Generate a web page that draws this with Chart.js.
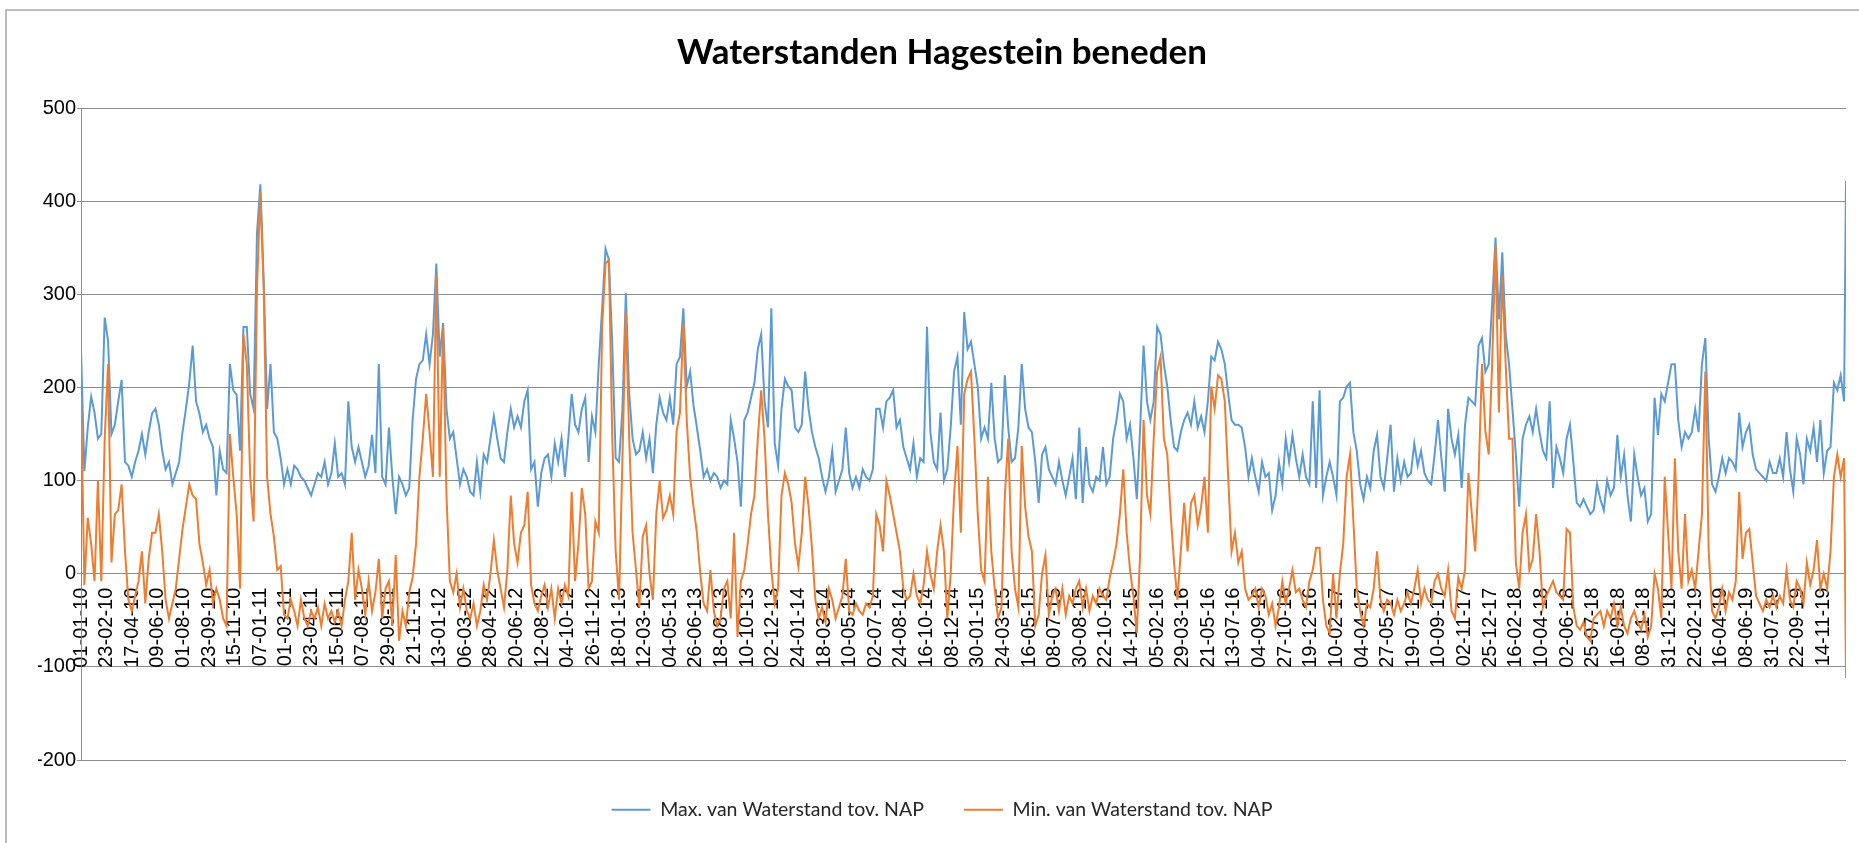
<!DOCTYPE html>
<html>
<head>
<meta charset="utf-8">
<title>Waterstanden Hagestein beneden</title>
<script src="https://cdn.jsdelivr.net/npm/chart.js@4.4.1/dist/chart.umd.min.js"></script>
<style>
  html, body { margin: 0; padding: 0; background: #fff; }
  #wrap { width: 1859px; height: 843px; position: relative; }
</style>
</head>
<body>
<div id="wrap"><canvas id="waterChart"></canvas></div>
<script>
// waterstand in cm tov. NAP, one value per week from 01-01-2010 (day 0), last value = 31-12-2019
const maxWeekly = [
  240,110,157,190,173,145,150,275,250,150,160,185,208,120,116,104,120,132,150,128,152,172,177,160,132,112,120,96,108,120,152,177,205,245,185,172,152,160,145,136,84,132,112,108,225,197,192,132,265,265,
  193,177,365,418,313,177,225,152,145,124,96,112,96,116,112,104,100,92,84,96,108,104,120,96,108,140,104,108,96,185,136,120,136,120,104,116,149,108,225,104,96,157,104,64,104,96,84,92,165,209,225,229,257,
  225,257,333,233,269,177,145,152,124,96,112,104,88,84,120,88,128,120,145,169,145,124,120,152,177,157,169,157,185,197,112,120,72,108,124,128,104,140,120,145,104,145,193,160,152,177,189,120,169,152,225,285,349,
  337,245,124,120,177,301,193,145,128,132,152,124,145,108,160,189,173,165,189,160,225,233,285,201,217,181,157,132,104,112,100,108,104,92,100,96,165,145,120,72,165,173,189,205,241,257,185,157,285,140,116,177,209,201,
  197,157,152,160,217,177,152,136,124,104,88,104,132,88,100,112,157,108,92,104,92,112,104,100,112,177,177,157,185,189,197,157,165,136,124,112,140,104,124,120,265,152,120,112,173,100,112,157,217,233,160,281,241,
  249,225,201,145,157,145,205,145,120,124,213,157,120,124,157,225,177,157,152,120,76,128,136,112,104,96,120,100,84,104,124,80,157,76,136,96,88,104,100,136,96,104,145,165,193,185,145,160,124,80,157,245,185,
  165,185,265,257,225,201,165,136,132,152,165,173,160,185,157,169,152,185,233,229,249,241,225,193,165,160,160,157,136,104,124,104,88,120,104,108,68,84,120,96,145,120,149,124,104,128,104,96,185,92,197,84,104,120,
  104,84,185,189,201,205,152,132,96,80,104,92,132,149,104,92,124,160,88,124,100,120,104,108,140,116,132,108,100,96,128,165,124,88,177,145,128,149,92,160,189,185,181,245,253,217,225,289,361,273,345,257,225,
  177,128,72,145,160,169,152,177,152,132,124,185,92,136,124,108,145,160,120,76,72,80,72,64,68,96,80,68,100,84,92,149,104,128,84,56,128,104,84,92,56,64,189,149,193,185,205,225,225,165,136,152,145,
  152,177,152,225,253,145,96,88,104,124,108,124,120,112,173,136,152,160,128,112,108,104,100,120,108,108,124,104,152,112,88,145,128,96,145,132,157,120,165,108,132,136,205,197,213,185,
  422
];
const minWeekly = [
  190,-12,60,32,-8,100,-8,145,225,12,64,68,96,24,-28,-40,-24,-8,24,-32,16,44,44,64,24,-28,-48,-32,-16,16,48,72,96,84,80,32,12,-12,4,-32,-16,-28,-48,-56,150,104,64,-16,257,225,
  104,56,305,410,305,104,64,40,4,8,-44,-48,-28,-40,-56,-28,-48,-56,-40,-48,-36,-56,-32,-48,-40,-52,-40,-56,-28,-8,44,-28,4,-16,-44,-8,-40,-20,16,-48,-16,-8,-56,20,-72,-40,-56,-20,-4,32,104,145,193,
  152,104,321,104,265,84,-8,-20,0,-36,-16,-40,-48,-32,-56,-40,-12,-28,0,36,4,-16,-36,4,84,32,12,44,52,88,-12,-32,-40,-24,-12,-36,-16,-48,-16,-32,-12,-24,88,-8,32,92,64,-16,-8,56,44,265,333,
  337,145,24,-28,124,281,145,44,4,-36,40,52,0,-28,64,100,60,68,84,64,153,173,269,165,104,72,44,0,-32,-40,4,-40,-56,-48,-16,-8,-48,44,-68,-8,4,32,64,84,145,197,145,64,4,-32,-16,84,108,96,
  76,32,8,44,104,72,28,-28,-48,-36,-52,-16,-28,-48,-36,-24,16,-40,-44,-32,-40,-44,-32,-36,-24,64,52,24,100,84,64,44,24,-16,-28,-24,0,-24,-32,-12,24,0,-16,24,52,24,-48,0,84,137,44,193,209,
  217,145,64,4,-8,104,24,-16,-48,-36,84,145,24,-16,-36,137,72,40,24,-56,-44,0,20,-44,-24,-16,-40,-16,-44,-24,-32,-16,-8,-36,-16,-40,-24,-32,-16,-24,-28,-4,12,32,64,112,44,4,-24,-64,24,165,84,
  64,145,217,233,145,128,64,12,-28,24,76,24,76,84,52,72,104,44,201,177,213,209,185,104,24,44,12,24,-16,-28,-24,-16,-36,-16,-24,-44,-32,-56,-36,-8,-32,-16,4,-20,-16,-28,-36,-8,4,28,28,-28,-56,-64,
  0,-48,0,32,104,128,56,-16,-40,-56,-32,-36,-16,24,-28,-40,-28,-32,-44,-28,-40,-32,-20,-32,-16,4,-32,-16,-28,-32,-8,0,-16,-24,4,-40,-48,-4,-16,4,108,64,24,104,225,153,128,225,353,173,321,225,145,
  145,12,-16,44,64,4,16,64,24,-36,-24,-16,-8,-20,-24,-28,48,44,-36,-56,-60,-52,-68,-72,-48,-44,-40,-56,-40,-48,-32,-56,-36,-56,-64,-48,-40,-52,-60,-44,-68,-56,0,-16,-48,104,44,-16,124,24,-16,64,-8,
  4,-16,24,64,217,24,-40,-48,-36,-16,-40,-20,-28,-8,88,16,44,48,12,-24,-32,-40,-28,-36,-24,-36,-24,-32,4,-28,-36,-8,-16,-32,12,-12,4,36,-16,0,-16,24,104,128,104,124,
  -112
];
// labels on the category axis, every 53 days
const tickLabels = [
  '01-01-10','23-02-10','17-04-10','09-06-10','01-08-10','23-09-10','15-11-10','07-01-11','01-03-11','23-04-11',
  '15-06-11','07-08-11','29-09-11','21-11-11','13-01-12','06-03-12','28-04-12','20-06-12','12-08-12','04-10-12',
  '26-11-12','18-01-13','12-03-13','04-05-13','26-06-13','18-08-13','10-10-13','02-12-13','24-01-14','18-03-14',
  '10-05-14','02-07-14','24-08-14','16-10-14','08-12-14','30-01-15','24-03-15','16-05-15','08-07-15','30-08-15',
  '22-10-15','14-12-15','05-02-16','29-03-16','21-05-16','13-07-16','04-09-16','27-10-16','19-12-16','10-02-17',
  '04-04-17','27-05-17','19-07-17','10-09-17','02-11-17','25-12-17','16-02-18','10-04-18','02-06-18','25-07-18',
  '16-09-18','08-11-18','31-12-18','22-02-19','16-04-19','08-06-19','31-07-19','22-09-19','14-11-19'
];
const tickStep = 53;
const lastDay = 3651;

const days = maxWeekly.map((v, i) => i < maxWeekly.length - 1 ? i * 7 : lastDay);
const tickDays = tickLabels.map((l, i) => i * tickStep);

// thin grey frame like the excel chart area
const framePlugin = {
  id: 'frame',
  beforeDraw(chart) {
    const c = chart.ctx;
    c.save();
    c.fillStyle = '#ffffff';
    c.fillRect(0, 0, chart.width, chart.height);
    c.strokeStyle = '#a6a6a6';
    c.lineWidth = 1.5;
    c.beginPath();
    c.moveTo(6, chart.height);
    c.lineTo(6, 10);
    c.lineTo(chart.width, 10);
    c.stroke();
    c.restore();
  }
};

const ctx = document.getElementById('waterChart').getContext('2d');
new Chart(ctx, {
  type: 'line',
  data: {
    datasets: [{
      label: 'Max. van Waterstand tov. NAP',
      data: days.map((d, i) => ({x: d, y: maxWeekly[i]})),
      borderColor: '#5B9BD5',
      backgroundColor: '#5B9BD5',
      borderWidth: 2,
      pointRadius: 0,
      tension: 0,
      order: 1
    }, {
      label: 'Min. van Waterstand tov. NAP',
      data: days.map((d, i) => ({x: d, y: minWeekly[i]})),
      borderColor: '#ED7D31',
      backgroundColor: '#ED7D31',
      borderWidth: 2,
      pointRadius: 0,
      tension: 0,
      order: 0
    }]
  },
  options: {
    responsive: true,
    maintainAspectRatio: false,
    animation: false,
    devicePixelRatio: 1,
    // left padding moves title + legend centre to the right, axis width below compensates
    layout: { padding: { left: 38, right: 13, top: 0, bottom: 13.5 } },
    plugins: {
      title: {
        display: true,
        text: 'Waterstanden Hagestein beneden',
        color: '#000',
        font: { family: 'Lato', size: 35, weight: 'bold' },
        padding: { top: 32, bottom: 34 }
      },
      legend: {
        position: 'bottom',
        labels: {
          usePointStyle: true,
          pointStyle: 'line',
          pointStyleWidth: 39,
          color: '#262626',
          font: { family: 'Lato', size: 19.5 },
          padding: 40,
          sort: (a, b) => a.datasetIndex - b.datasetIndex
        }
      },
      tooltip: { enabled: false }
    },
    scales: {
      x: {
        type: 'linear',
        position: { y: 0 },
        min: 0,
        max: lastDay,
        afterBuildTicks: scale => { scale.ticks = tickDays.map(v => ({ value: v })); },
        ticks: {
          autoSkip: false,
          maxRotation: 90,
          minRotation: 90,
          padding: 6,
          color: '#000',
          font: { family: 'Liberation Sans', size: 20 },
          callback: (v, i) => tickLabels[i]
        },
        grid: { display: false },
        border: { display: false }
      },
      y: {
        min: -200,
        max: 500,
        afterFit: scale => { scale.width = 43; },
        ticks: {
          stepSize: 100,
          color: '#000',
          padding: 1,
          font: { family: 'Liberation Sans', size: 20 }
        },
        grid: { color: '#8c8c8c', lineWidth: 1, tickLength: 4 },
        border: { color: '#8c8c8c' }
      }
    }
  },
  plugins: [framePlugin]
});
</script>
</body>
</html>
